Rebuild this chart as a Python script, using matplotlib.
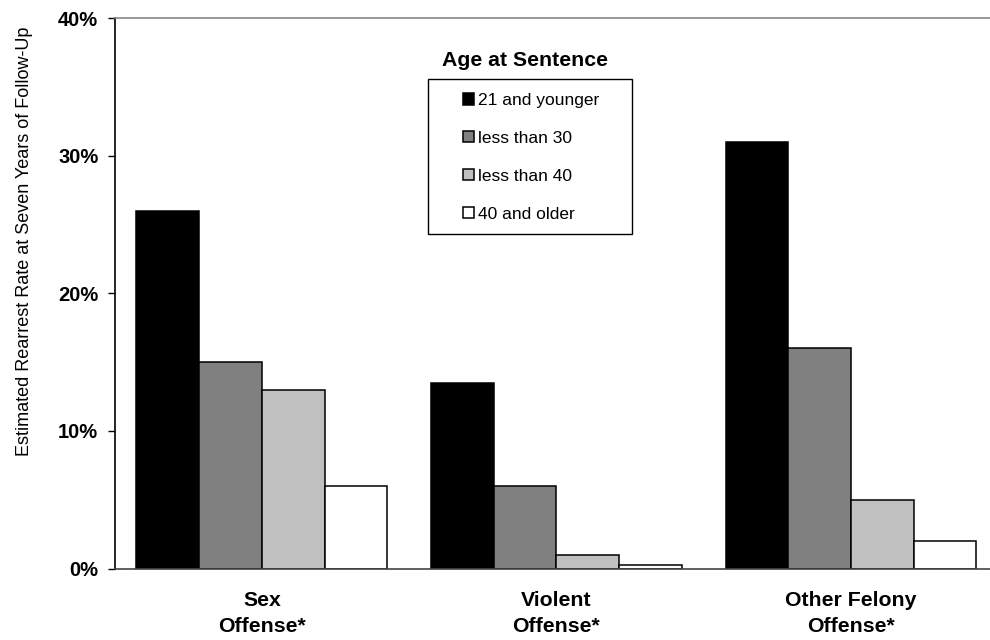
import numpy as np
import matplotlib
matplotlib.use("Agg")
import matplotlib.pyplot as plt
from matplotlib.patches import Rectangle
from matplotlib.ticker import FuncFormatter

plt.rcParams['font.family'] = ['Liberation Sans', 'DejaVu Sans']

# rearrest rates (%) by offense type and age group
offenses = ["Sex\nOffense*", "Violent\nOffense*", "Other Felony\nOffense*"]
age_groups = ["21 and younger", "less than 30", "less than 40", "40 and older"]
rate_21_younger = [26.0, 13.5, 31.0]
rate_under_30 = [15.0, 6.0, 16.0]
rate_under_40 = [13.0, 1.0, 5.0]
rate_40_older = [6.0, 0.25, 2.0]
colors = ["#000000", "#808080", "#c0c0c0", "#ffffff"]

series = [rate_21_younger, rate_under_30, rate_under_40, rate_40_older]

W, H = 990, 640
fig = plt.figure(figsize=(W / 100, H / 100), dpi=100)
ax = fig.add_axes([115 / W, 71.5 / H, 875 / W, 550.5 / H])

x = np.arange(len(offenses))
w = 0.213
for i, (vals, c, lab) in enumerate(zip(series, colors, age_groups)):
    ax.bar(x + (i - 1.5) * w, vals, w, color=c, edgecolor="black",
           linewidth=1.1, label=lab, zorder=2)

ax.set_xlim(-0.499, 2.472)
ax.set_ylim(0, 40)
ax.set_yticks([0, 10, 20, 30, 40])
ax.yaxis.set_major_formatter(FuncFormatter(lambda v, p: f"{v:.0f}%"))
ax.set_xticks(x)
ax.set_xticklabels(offenses, fontsize=15.3, fontweight="bold", linespacing=1.5)
ax.tick_params(axis="x", length=0, pad=16)
ax.tick_params(axis="y", length=5, width=1, pad=7, labelsize=14.5)
for t in ax.get_yticklabels():
    t.set_fontweight("bold")

ax.spines["right"].set_visible(False)
ax.spines["top"].set_color("#888888")
ax.spines["top"].set_linewidth(1.2)
ax.spines["left"].set_linewidth(1.2)
ax.spines["bottom"].set_color("#444444")
ax.spines["bottom"].set_linewidth(1.2)

fig.text(25 / W, 1 - 241 / H, "Estimated Rearrest Rate at Seven Years of Follow-Up",
         fontsize=13, rotation=90, ha="center", va="center")

# legend: box drawn separately, entries placed inside it
box = Rectangle((428 / W, 1 - 234 / H), 204 / W, 155 / H,
                transform=fig.transFigure, facecolor="white",
                edgecolor="black", linewidth=1.0, zorder=3, clip_on=False)
ax.add_artist(box)
leg = ax.legend(loc="upper left", bbox_to_anchor=(463 / W, 1 - 93 / H),
                bbox_transform=fig.transFigure, fontsize=12.5, frameon=False,
                handlelength=0.63, handleheight=0.63, handletextpad=0.25,
                labelspacing=1.32, borderpad=0, borderaxespad=0)
leg.set_zorder(4)

fig.text(525 / W, 1 - 60 / H, "Age at Sentence", fontsize=15.3,
         fontweight="bold", ha="center", va="center")

fig.savefig("out.png", dpi=100, facecolor="white")
